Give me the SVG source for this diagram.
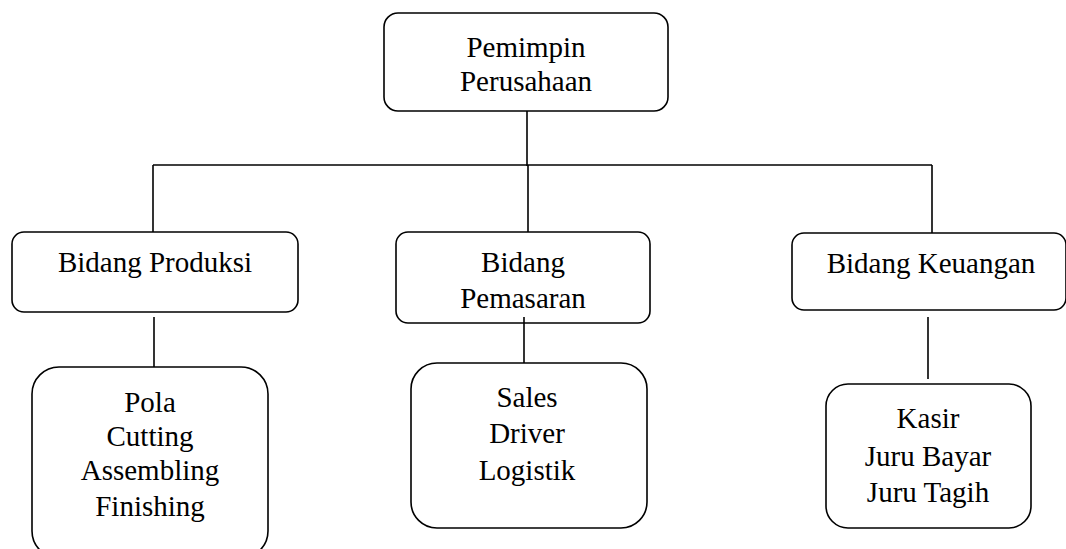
<svg xmlns="http://www.w3.org/2000/svg" width="1066" height="549" viewBox="0 0 1066 549">
<style>
.box{fill:#fff;stroke:#000;stroke-width:1.6}
.ln{stroke:#000;stroke-width:1.6;fill:none}
text{font-family:"Liberation Serif","Times New Roman",serif;font-size:29px;fill:#000;text-anchor:middle}
</style>
<rect width="1066" height="549" fill="#fff"/>
<g id="connectors">
<line class="ln" x1="527" y1="111" x2="527" y2="166"/>
<line class="ln" x1="153" y1="165" x2="932" y2="165"/>
<line class="ln" x1="153" y1="165" x2="153" y2="232"/>
<line class="ln" x1="528" y1="165" x2="528" y2="232"/>
<line class="ln" x1="932" y1="165" x2="932" y2="233"/>
<line class="ln" x1="154" y1="317" x2="154" y2="367"/>
<line class="ln" x1="928" y1="317" x2="928" y2="379"/>
</g>
<g id="pemimpin">
<rect class="box" x="384" y="13" width="284" height="98" rx="14"/>
<text x="526" y="57">Pemimpin</text>
<text x="526" y="91">Perusahaan</text>
</g>
<g id="produksi">
<rect class="box" x="12" y="232" width="286" height="80" rx="12"/>
<text x="155" y="272">Bidang Produksi</text>
</g>
<g id="pemasaran">
<rect class="box" x="396" y="232" width="254" height="91" rx="12"/>
<text x="523" y="272">Bidang</text>
<text x="523" y="308">Pemasaran</text>
</g>
<g id="keuangan">
<rect class="box" x="792" y="233" width="274" height="77" rx="12"/>
<text x="931" y="273">Bidang Keuangan</text>
</g>
<g id="produksi-staff">
<rect class="box" x="32" y="367" width="236" height="191" rx="27"/>
<text x="150" y="412">Pola</text>
<text x="150" y="446">Cutting</text>
<text x="150" y="480">Assembling</text>
<text x="150" y="516">Finishing</text>
</g>
<g id="pemasaran-staff">
<rect class="box" x="411" y="363" width="236" height="165" rx="26"/>
<text x="527" y="407">Sales</text>
<text x="527" y="443">Driver</text>
<text x="527" y="480">Logistik</text>
</g>
<line class="ln" x1="524" y1="317" x2="524" y2="363"/>
<g id="keuangan-staff">
<rect class="box" x="826" y="384" width="205" height="144" rx="22"/>
<text x="928" y="428">Kasir</text>
<text x="928" y="466">Juru Bayar</text>
<text x="928" y="502">Juru Tagih</text>
</g>
</svg>
